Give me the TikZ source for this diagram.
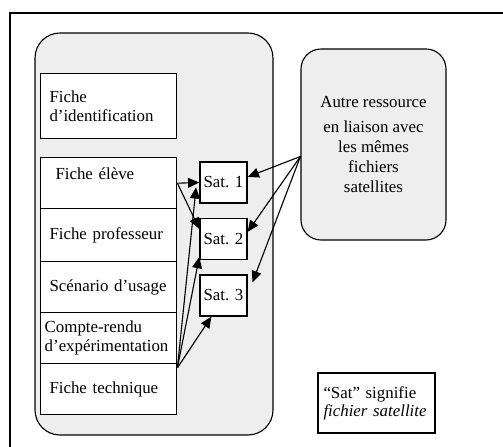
\documentclass[tikz,border=0pt]{standalone}
\usepackage{fontspec}
\setmainfont{Liberation Serif}
\usetikzlibrary{arrows.meta,calc}
\definecolor{fondgris}{gray}{0.935}
\tikzset{
  fiche/.style={draw,line width=1pt,fill=white,anchor=north west,text width=2.96cm,inner xsep=0.22cm,align=left,font=\fontsize{12}{13.5}\selectfont},
  sat/.style={draw,line width=1pt,fill=white,minimum width=1.175cm,minimum height=1.025cm,inner sep=0pt,font=\fontsize{12}{13.5}\selectfont},
  fleche/.style={line width=0.8pt,-{Triangle[length=8pt,width=7pt]}}
}
\begin{document}
\begin{tikzpicture}
\useasboundingbox (0,0) rectangle (12.575,11.175);
%\draw[step=0.5cm,gray,very thin] (0,0) grid (12.5,11); %background grid
\draw[line width=1.2pt] (0.25,0) -- (0.25,10.85) -- (12.575,10.85);
\draw[line width=0.8pt,fill=fondgris,rounded corners=0.625cm] (0.875,0.3) rectangle (6.825,10.35);
% fiches
\node[fiche,minimum height=1.625cm] (ident) at (1.0,9.35) {Fiche\\d’identification};
\node[fiche,minimum height=1.275cm,text depth=0.46cm] (eleve) at (1.0,7.25) {\hspace*{0.15cm}Fiche élève};
\node[fiche,minimum height=1.325cm] (prof) at (1.0,5.975) {Fiche professeur};
\node[fiche,minimum height=1.275cm] (scen) at (1.0,4.65) {Scénario d’usage};
\node[fiche,minimum height=1.275cm,inner xsep=0.1cm,text width=3.2cm] (compte) at (1.0,3.375) {Compte-rendu\\d’expérimentation};
\node[fiche,minimum height=1.275cm] (tech) at (1.0,2.1) {Fiche technique};
% satellites
\node[sat] (sat1) at (5.5875,6.6125) {Sat. 1};
\node[sat] (sat2) at (5.5875,5.2) {Sat. 2};
\node[sat] (sat3) at (5.5875,3.7875) {Sat. 3};
\node[draw,line width=0.8pt,fill=fondgris,rounded corners=0.5cm,minimum width=3.625cm,minimum height=4.775cm,align=center,font=\fontsize{12}{14.2}\selectfont] (autre) at (9.3375,7.5625) {Autre ressource\\[3pt]en liaison avec\\les mêmes\\fichiers\\satellites};
\node[draw,line width=1pt,minimum width=2.925cm,minimum height=1.5cm,text width=2.65cm,inner xsep=0.14cm,align=left,font=\fontsize{12}{12.8}\selectfont] (legende) at (9.4125,1.1) {“Sat” signifie\\\mbox{\textit{fichier satellite}}};
\coordinate (techout) at ([yshift=-0.12cm]tech.north east);
\coordinate (autreout) at ([yshift=-0.3cm]autre.west);
\draw[fleche] (eleve.east) -- (sat1.west);
\draw[fleche] (eleve.east) -- ([yshift=0.25cm]sat2.west);
\draw[fleche] (techout) -- ([shift={(-0.08,-0.12)}]sat1.west);
\draw[fleche] (techout) -- ([yshift=0.08cm]sat2.south west);
\draw[fleche] (techout) -- ($(sat3.south west)!0.25!(sat3.south east)$);
\draw[fleche] (autreout) -- ([yshift=0.14cm]sat1.east);
\draw[fleche] (autreout) -- ([yshift=0.18cm]sat2.east);
\draw[fleche] (autreout) -- ([shift={(0.12,-0.2)}]sat3.north east);
\end{tikzpicture}
\end{document}
